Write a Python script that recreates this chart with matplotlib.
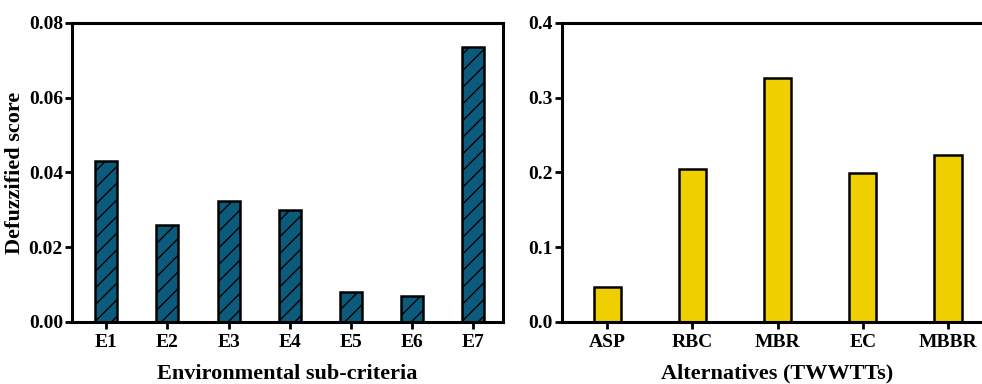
import matplotlib.pyplot as plt
import numpy as np

env_labels = ["E1", "E2", "E3", "E4", "E5", "E6", "E7"]
env_scores = [0.0431, 0.0259, 0.0324, 0.0300, 0.0080, 0.0069, 0.0735]

alt_labels = ["ASP", "RBC", "MBR", "EC", "MBBR"]
alt_scores = [0.0469, 0.204, 0.326, 0.199, 0.2235]

plt.rcParams['font.family'] = ['Liberation Serif', 'DejaVu Serif']
plt.rcParams['font.weight'] = 'bold'
plt.rcParams['hatch.linewidth'] = 1.0


def style(ax):
    for s in ax.spines.values():
        s.set_linewidth(2.2)
    ax.tick_params(axis='both', direction='out', length=5, width=2, labelsize=14)
    ax.tick_params(axis='y', pad=1.5)
    ax.tick_params(axis='x', pad=4)
    for lab in ax.get_xticklabels() + ax.get_yticklabels():
        lab.set_fontweight('bold')


def main():
    fig = plt.figure(figsize=(9.82, 3.84), dpi=100)

    ax1 = fig.add_axes([0.0733, 0.1615, 0.439, 0.779])
    x1 = np.arange(len(env_labels))
    ax1.bar(x1, env_scores, width=0.36, color="#0b5c7c", edgecolor="black",
            linewidth=1.8, hatch="//")
    ax1.set_xticks(x1)
    ax1.set_xticklabels(env_labels)
    ax1.set_xlim(-0.56, 6.49)
    ax1.set_ylim(0, 0.08)
    ax1.set_yticks([0.00, 0.02, 0.04, 0.06, 0.08])
    ax1.set_yticklabels(["0.00", "0.02", "0.04", "0.06", "0.08"])
    ax1.set_ylabel("Defuzzified score", fontsize=16, fontweight='bold')
    ax1.yaxis.set_label_coords(-0.110, 0.5)
    ax1.set_xlabel("Environmental sub-criteria", fontsize=16, fontweight='bold', labelpad=9)
    style(ax1)

    ax2 = fig.add_axes([0.5723, 0.1615, 0.439, 0.779])
    x2 = np.arange(len(alt_labels))
    ax2.bar(x2, alt_scores, width=0.32, color="#efcf00", edgecolor="black",
            linewidth=1.8)
    ax2.set_xticks(x2)
    ax2.set_xticklabels(alt_labels)
    ax2.set_xlim(-0.53, 4.53)
    ax2.set_ylim(0, 0.4)
    ax2.set_yticks([0.0, 0.1, 0.2, 0.3, 0.4])
    ax2.set_yticklabels(["0.0", "0.1", "0.2", "0.3", "0.4"])
    ax2.set_xlabel("Alternatives (TWWTTs)", fontsize=16, fontweight='bold', labelpad=9)
    style(ax2)

    fig.savefig("out.png", dpi=100)


if __name__ == "__main__":
    main()
